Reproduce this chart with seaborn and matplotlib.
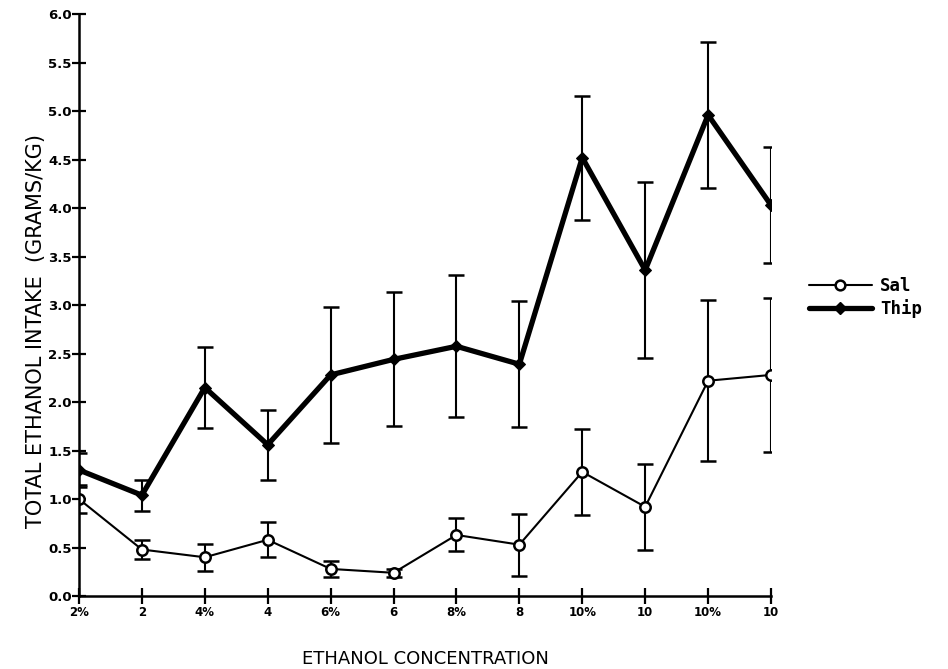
import numpy as np
import pandas as pd
import seaborn as sns
import matplotlib
matplotlib.use("Agg")
import matplotlib.pyplot as plt
from matplotlib.lines import Line2D

# Session labels along the x axis
concentrations = ["2%", "2", "4%", "4", "6%", "6", "8%", "8", "10%", "10", "10%", "10"]

# Mean total ethanol intake (g/kg) and error for each group
sal_mean = [1.00, 0.48, 0.40, 0.58, 0.28, 0.24, 0.63, 0.53, 1.28, 0.92, 2.22, 2.28]
sal_err = [0.14, 0.10, 0.14, 0.18, 0.08, 0.04, 0.17, 0.32, 0.44, 0.44, 0.83, 0.79]
thip_mean = [1.30, 1.04, 2.15, 1.56, 2.28, 2.44, 2.575, 2.39, 4.52, 3.36, 4.96, 4.03]
thip_err = [0.18, 0.16, 0.42, 0.36, 0.70, 0.69, 0.73, 0.65, 0.64, 0.91, 0.75, 0.60]

sns.set_theme(style="white")
plt.rcParams["font.family"] = ["DejaVu Sans"]
plt.rcParams["text.color"] = "black"
plt.rcParams["axes.labelcolor"] = "black"

pos = np.arange(len(concentrations))
df = pd.DataFrame({
    "pos": np.concatenate([pos, pos]),
    "intake": sal_mean + thip_mean,
    "group": ["Sal"] * len(pos) + ["Thip"] * len(pos),
})

fig = plt.figure(figsize=(9.48, 6.69), dpi=100)
ax = fig.add_axes([0.0833, 0.109, 0.7300, 0.870])

sns.lineplot(data=df[df.group == "Thip"], x="pos", y="intake", ax=ax,
             color="black", linewidth=3.8, marker="D", markersize=6,
             markeredgecolor="black", legend=False, zorder=3)
sns.lineplot(data=df[df.group == "Sal"], x="pos", y="intake", ax=ax,
             color="black", linewidth=1.5, marker="o", markersize=7.5,
             markerfacecolor="white", markeredgecolor="black",
             markeredgewidth=1.8, legend=False, zorder=4)

ax.errorbar(pos, thip_mean, yerr=thip_err, fmt="none", ecolor="black",
            elinewidth=1.5, capsize=6, capthick=1.8, zorder=2)
ax.errorbar(pos, sal_mean, yerr=sal_err, fmt="none", ecolor="black",
            elinewidth=1.5, capsize=6, capthick=1.8, zorder=2)

ax.set_xlim(0, len(pos) - 1)
ax.set_ylim(0, 6.0)
ax.set_yticks(np.arange(0, 6.01, 0.5))
ax.set_yticklabels([f"{v:.1f}" for v in np.arange(0, 6.01, 0.5)],
                   fontsize=9.5, fontweight="bold")
ax.set_xticks(pos)
ax.set_xticklabels(concentrations, fontsize=8.5, fontweight="bold")

for side in ["top", "right"]:
    ax.spines[side].set_visible(False)
for side in ["left", "bottom"]:
    ax.spines[side].set_color("black")
    ax.spines[side].set_linewidth(1.8)
ax.spines["left"].set_zorder(5)
ax.tick_params(axis="x", which="major", direction="inout", length=12,
               width=1.6, color="black", labelcolor="black", pad=1,
               bottom=True)
ax.tick_params(axis="y", which="major", direction="inout", length=10.5,
               width=1.6, color="black", labelcolor="black", pad=0,
               left=True)

ax.set_xlabel("ETHANOL CONCENTRATION", fontsize=13)
ax.xaxis.set_label_coords(0.5, -0.093, transform=ax.transAxes)
ax.xaxis.label.set_verticalalignment("top")
ax.set_ylabel("TOTAL ETHANOL INTAKE  (GRAMS/KG)", fontsize=15)
ax.yaxis.set_label_coords(-0.048, 0.455, transform=ax.transAxes)

handles = [
    Line2D([], [], color="black", linewidth=1.5, marker="o", markersize=7,
           markerfacecolor="white", markeredgewidth=1.8),
    Line2D([], [], color="black", linewidth=3.8, marker="D", markersize=6),
]
fig.legend(handles, ["Sal", "Thip"], loc="center left",
           bbox_to_anchor=(0.837, 0.555), frameon=False, handlelength=3.6,
           handletextpad=0.5, labelspacing=0.2,
           prop={"family": "DejaVu Sans Mono", "size": 12.5, "weight": "bold"})

fig.savefig("out.png", dpi=100)
